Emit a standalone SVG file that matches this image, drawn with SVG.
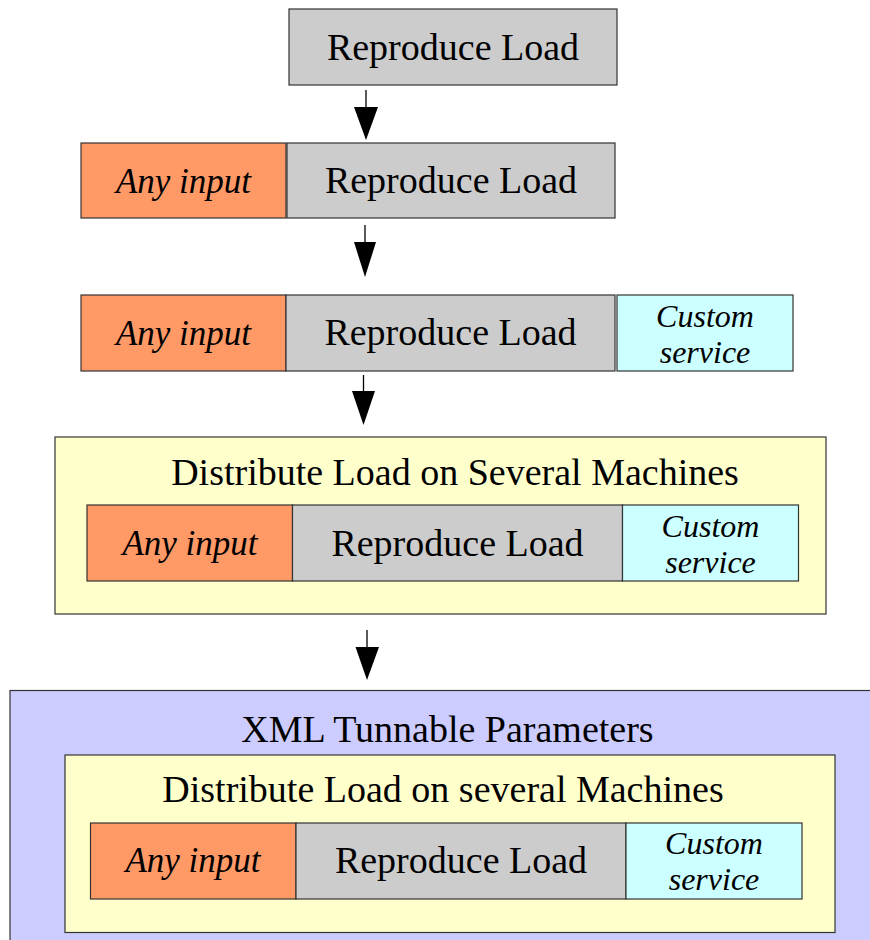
<svg xmlns="http://www.w3.org/2000/svg" width="870" height="940" viewBox="0 0 870 940">
  <style>
    .box { stroke: #333; stroke-width: 1.2; }
    .load { fill: #cccccc; }
    .input { fill: #ff9966; }
    .svc { fill: #ccffff; }
    .dist { fill: #ffffcc; }
    .xml { fill: #ccccff; }
    text { font-family: "Liberation Serif", "Times New Roman", serif; fill: #000; text-anchor: middle; }
    .big { font-size: 38px; }
    .it { font-size: 35px; font-style: italic; }
    .its { font-size: 32px; font-style: italic; }
    .conn line { stroke: #000; stroke-width: 1.3; }
    .conn polygon { fill: #000; }
  </style>

  <!-- Stage 1 -->
  <g id="stage1">
    <rect class="box load" x="289" y="9" width="328" height="76"/>
    <text class="big" x="453" y="60">Reproduce Load</text>
  </g>

  <!-- Stage 2 -->
  <g id="stage2">
    <rect class="box input" x="81" y="143" width="205" height="75"/>
    <text class="it" x="183.5" y="193">Any input</text>
    <rect class="box load" x="287" y="143" width="328" height="75"/>
    <text class="big" x="451" y="193">Reproduce Load</text>
  </g>

  <!-- Stage 3 -->
  <g id="stage3">
    <rect class="box input" x="81" y="295" width="205" height="76"/>
    <text class="it" x="183.5" y="345">Any input</text>
    <rect class="box load" x="286" y="295" width="329" height="76"/>
    <text class="big" x="450.5" y="345">Reproduce Load</text>
    <rect class="box svc" x="617" y="295" width="176" height="76"/>
    <text class="its" x="705" y="327">Custom</text>
    <text class="its" x="705" y="363">service</text>
  </g>

  <!-- Stage 4: distributed -->
  <g id="stage4">
    <rect class="box dist" x="55" y="437" width="771" height="177"/>
    <text class="big" x="455" y="485">Distribute Load on Several Machines</text>
    <rect class="box input" x="87" y="505" width="205.5" height="76"/>
    <text class="it" x="190" y="555">Any input</text>
    <rect class="box load" x="292.5" y="505" width="330" height="76"/>
    <text class="big" x="457.5" y="556">Reproduce Load</text>
    <rect class="box svc" x="622.5" y="505" width="176" height="76"/>
    <text class="its" x="710.5" y="537">Custom</text>
    <text class="its" x="710.5" y="573">service</text>
  </g>

  <!-- Stage 5: tunable parameters -->
  <g id="stage5">
    <rect class="box xml" x="10" y="690.5" width="880" height="270"/>
    <text class="big" x="447.5" y="742">XML Tunnable Parameters</text>
    <rect class="box dist" x="65" y="755" width="770" height="177.5"/>
    <text class="big" x="443" y="802">Distribute Load on several Machines</text>
    <rect class="box input" x="90.5" y="823" width="205.5" height="76"/>
    <text class="it" x="193" y="872">Any input</text>
    <rect class="box load" x="296" y="823" width="330" height="76"/>
    <text class="big" x="461" y="873">Reproduce Load</text>
    <rect class="box svc" x="626" y="823" width="176" height="76"/>
    <text class="its" x="714" y="854">Custom</text>
    <text class="its" x="714" y="890">service</text>
  </g>

  <!-- Connectors -->
  <g id="connectors" class="conn">
    <line x1="366" y1="90" x2="366" y2="108"/>
    <polygon points="354,107 378,107 366,140"/>
    <line x1="365" y1="225" x2="365" y2="243"/>
    <polygon points="354,242 376,242 365,277"/>
    <line x1="363.5" y1="375" x2="363.5" y2="392"/>
    <polygon points="352,391 375,391 363.5,425"/>
    <line x1="367" y1="630" x2="367" y2="648"/>
    <polygon points="355.5,647 379,647 367,680"/>
  </g>
</svg>
